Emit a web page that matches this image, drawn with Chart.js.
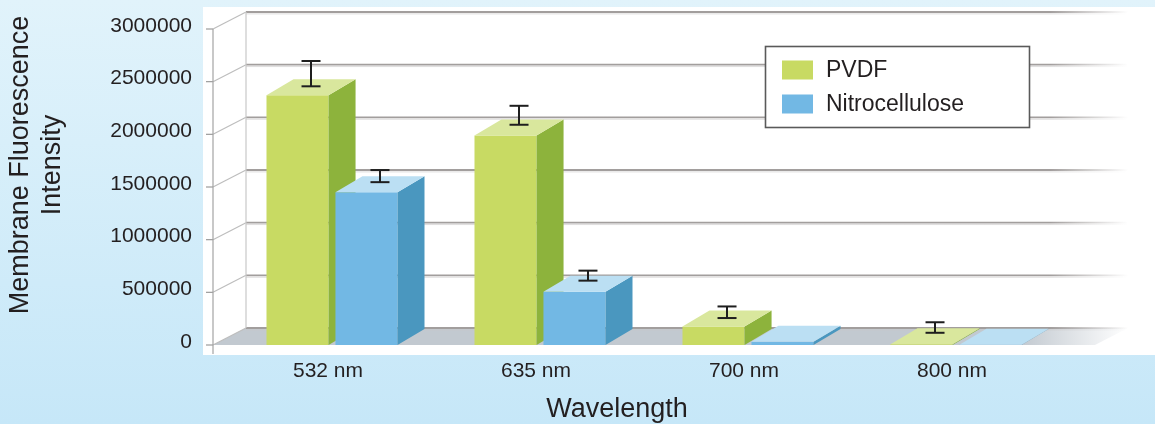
<!DOCTYPE html>
<html>
<head>
<meta charset="utf-8">
<script src="https://cdn.jsdelivr.net/npm/chart.js@4.4.1/dist/chart.umd.min.js"></script>
<style>
  html, body { margin: 0; padding: 0; }
  body { width: 1155px; height: 424px; overflow: hidden; background: linear-gradient(#e1f3fb, #c6e7f8); }
  #wrap { width: 1155px; height: 424px; }
</style>
</head>
<body>
<div id="wrap"><canvas id="chart"></canvas></div>
<script>
// values
const categories = ["532 nm", "635 nm", "700 nm", "800 nm"];
const pvdf = [2370000, 1990000, 175000, 8000];
const nitro = [1450000, 505000, 30000, 2000];
const pvdfErrLow = [2380000, 2015000, 180000, 40000];
const pvdfErrHigh = [2620000, 2195000, 290000, 140000];
const nitroErrLow = [1470000, 535000, null, null];
const nitroErrHigh = [1585000, 630000, null, null];
const yTicks = [0, 500000, 1000000, 1500000, 2000000, 2500000, 3000000];
const xTitle = "Wavelength";
const yTitle = ["Membrane Fluorescence", "Intensity"];

const errLow = [pvdfErrLow, nitroErrLow];
const errHigh = [pvdfErrHigh, nitroErrHigh];

const FONT = "'Liberation Sans', Arial, Helvetica, sans-serif";
const TEXT = "#231f20";
const WALL = { dx: 33, dy: 17 };   // depth of the floor / side wall
const BAR = { dx: 27, dy: 16 };    // depth of a bar
const AXIS_X = 213;                // front vertical axis
const PANEL = { left: 203, top: 7, bottom: 355 };
const FADE = { from: 1050, to: 1128 };

const styles = [
  { front: "#c8da63", side: "#8db33c", top: "#d9e79d" },
  { front: "#72b8e4", side: "#4a97bf", top: "#bbdff3" },
];

function line(ctx, x1, y1, x2, y2) {
  ctx.beginPath();
  ctx.moveTo(x1, y1);
  ctx.lineTo(x2, y2);
  ctx.stroke();
}

function poly(ctx, pts, color) {
  ctx.fillStyle = color;
  ctx.beginPath();
  ctx.moveTo(pts[0][0], pts[0][1]);
  for (let i = 1; i < pts.length; i++) ctx.lineTo(pts[i][0], pts[i][1]);
  ctx.closePath();
  ctx.fill();
}

const box3d = {
  id: "box3d",
  beforeDraw(chart) {
    const { ctx, scales: { y } } = chart;
    const y0 = y.getPixelForValue(0);
    ctx.save();
    ctx.fillStyle = "#fff";
    ctx.fillRect(PANEL.left, PANEL.top, chart.width - PANEL.left, PANEL.bottom - PANEL.top);

    // floor
    const fg = ctx.createLinearGradient(FADE.from - 30, 0, FADE.to, 0);
    fg.addColorStop(0, "#c2c9d0");
    fg.addColorStop(1, "rgba(194,201,208,0)");
    poly(ctx, [[AXIS_X, y0], [FADE.to - WALL.dx, y0], [FADE.to, y0 - WALL.dy], [AXIS_X + WALL.dx, y0 - WALL.dy]], fg);

    // walls
    const gg = ctx.createLinearGradient(FADE.from, 0, FADE.to, 0);
    gg.addColorStop(0, "#a29e9d");
    gg.addColorStop(1, "rgba(162,158,157,0)");
    const sg = ctx.createLinearGradient(FADE.from, 0, FADE.to, 0);
    sg.addColorStop(0, "rgba(200,198,198,0.6)");
    sg.addColorStop(1, "rgba(200,198,198,0)");
    y.ticks.forEach(t => {
      const py = y.getPixelForValue(t.value);
      ctx.lineWidth = 1.2;
      ctx.strokeStyle = "#bdbdbd";
      line(ctx, AXIS_X, py, AXIS_X + WALL.dx, py - WALL.dy);
      ctx.lineWidth = 1.8;
      ctx.strokeStyle = gg;
      line(ctx, AXIS_X + WALL.dx, py - WALL.dy, FADE.to, py - WALL.dy);
      ctx.lineWidth = 1;
      ctx.strokeStyle = sg;
      line(ctx, AXIS_X + WALL.dx, py - WALL.dy + 1.9, FADE.to, py - WALL.dy + 1.9);
      ctx.lineWidth = 1.2;
      ctx.strokeStyle = "#9b9b9b";
      line(ctx, AXIS_X - 7, py, AXIS_X, py);
    });
    ctx.strokeStyle = "#c8c8c8";
    ctx.lineWidth = 1.2;
    line(ctx, AXIS_X + WALL.dx, y.top - WALL.dy, AXIS_X + WALL.dx, y0 - WALL.dy);
    ctx.strokeStyle = "#a3a3a3";
    line(ctx, AXIS_X, y.top, AXIS_X, y0 + 9);
    ctx.restore();
  },
  beforeDatasetsDraw(chart) {
    const { ctx, scales: { y } } = chart;
    const metas = chart.data.datasets.map((ds, d) => chart.getDatasetMeta(d));
    ctx.save();
    categories.forEach((c, i) => {
      metas.forEach((meta, d) => {
        const bar = meta.data[i];
        const st = styles[d];
        const w = bar.width;
        const x0 = bar.x - w / 2, x1 = bar.x + w / 2;
        const top = bar.y, base = bar.base;
        poly(ctx, [[x0, top], [x1, top], [x1, base], [x0, base]], st.front);
        poly(ctx, [[x1, top], [x1 + BAR.dx, top - BAR.dy], [x1 + BAR.dx, base - BAR.dy], [x1, base]], st.side);
        poly(ctx, [[x0, top], [x1, top], [x1 + BAR.dx, top - BAR.dy], [x0 + BAR.dx, top - BAR.dy]], st.top);

        const lo = errLow[d][i], hi = errHigh[d][i];
        if (lo != null && hi != null) {
          const ex = bar.x + BAR.dx / 2;
          const yl = y.getPixelForValue(lo) - BAR.dy / 2;
          const yh = y.getPixelForValue(hi) - BAR.dy / 2;
          ctx.strokeStyle = "#1e1e1e";
          ctx.lineWidth = 2;
          line(ctx, ex, yh, ex, yl);
          line(ctx, ex - 9.5, yh, ex + 9.5, yh);
          line(ctx, ex - 9.5, yl, ex + 9.5, yl);
        }
      });
    });
    ctx.restore();
    return false;
  },
  afterDraw(chart) {
    const { ctx } = chart;
    ctx.save();
    // legend
    ctx.fillStyle = "#fff";
    ctx.fillRect(765.5, 46.5, 264, 81);
    ctx.strokeStyle = "#5a5a5a";
    ctx.lineWidth = 1.6;
    ctx.strokeRect(765.5, 46.5, 264, 81);
    ctx.font = "23px " + FONT;
    ctx.textBaseline = "middle";
    chart.data.datasets.forEach((ds, d) => {
      const cy = 70 + d * 34;
      ctx.fillStyle = ds.backgroundColor;
      ctx.fillRect(782, cy - 9.5, 31, 19);
      ctx.fillStyle = TEXT;
      ctx.fillText(ds.label, 826, cy + 1);
    });

    // axis titles
    ctx.font = "27px " + FONT;
    ctx.fillStyle = TEXT;
    ctx.textAlign = "center";
    ctx.fillText(xTitle, 617, 410);
    ctx.translate(21, 165);
    ctx.rotate(-Math.PI / 2);
    yTitle.forEach((t, k) => ctx.fillText(t, 0, k * 32));
    ctx.restore();
  }
};

new Chart(document.getElementById("chart"), {
  type: "bar",
  data: {
    labels: categories,
    datasets: [
      { label: "PVDF", data: pvdf, backgroundColor: styles[0].front },
      { label: "Nitrocellulose", data: nitro, backgroundColor: styles[1].front },
    ],
  },
  options: {
    responsive: true,
    maintainAspectRatio: false,
    animation: false,
    layout: { padding: { top: 29, right: 95, left: 0, bottom: 0 } },
    categoryPercentage: 0.663,
    barPercentage: 0.9,
    plugins: {
      legend: { display: false },
      tooltip: { enabled: false },
    },
    scales: {
      x: {
        grid: { display: false, drawTicks: false },
        border: { display: false },
        ticks: { font: { size: 21, family: FONT }, color: TEXT, padding: 14, labelOffset: -4 },
        afterFit: s => { s.height = 79; },
      },
      y: {
        min: 0,
        max: 3000000,
        grid: { display: false, drawTicks: false },
        border: { display: false },
        afterBuildTicks: s => { s.ticks = yTicks.map(v => ({ value: v })); },
        ticks: {
          font: { size: 21, family: FONT },
          color: TEXT,
          padding: 36,
          labelOffset: -3,
          callback: v => String(v),
        },
        afterFit: s => {
          s.width = 228;
          s.paddingTop = 0;
          s.paddingBottom = 0;
        },
      },
    },
  },
  plugins: [box3d],
});
</script>
</body>
</html>
